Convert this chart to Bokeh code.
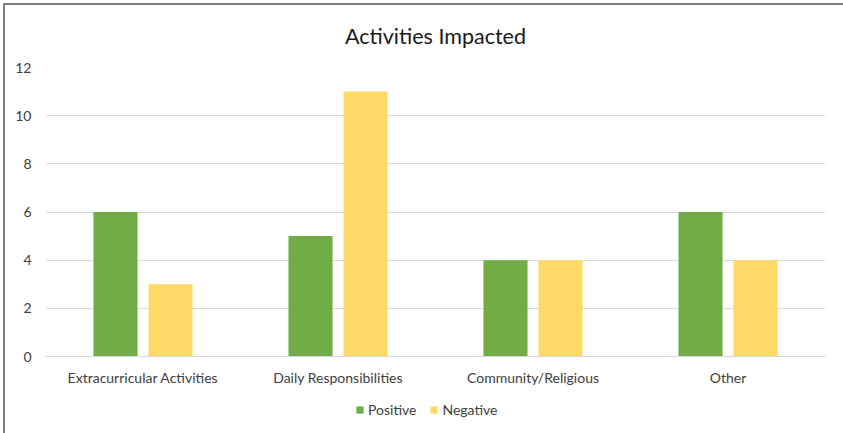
from bokeh.plotting import figure
from bokeh.layouts import column
from bokeh.models import (ColumnDataSource, FactorRange, Legend, LegendItem,
                          SingleIntervalTicker, Range1d, InlineStyleSheet)
from bokeh.transform import dodge
from bokeh.embed import file_html
from bokeh.resources import INLINE

# Survey counts per activity type
categories = ["Extracurricular Activities", "Daily Responsibilities", "Community/Religious", "Other"]
positive = [6, 5, 4, 6]
negative = [3, 11, 4, 4]
series_names = ["Positive", "Negative"]

GREEN = "#70AD47"
YELLOW = "#FFD966"
GRID = "#d9d9d9"
TEXT = "#404040"
FONT = "Lato"

source = ColumnDataSource(dict(cat=categories, pos=positive, neg=negative))

p = figure(
    x_range=FactorRange(*categories, range_padding=0),
    y_range=Range1d(0, 12),
    frame_width=780, frame_height=289,
    output_backend="svg", toolbar_location=None,
    min_border_left=45, min_border_right=18,
    min_border_top=67, min_border_bottom=44,
    title="Activities Impacted",
)

p.title.align = "center"
p.title.text_font = FONT
p.title.text_font_size = "21.5px"
p.title.text_font_style = "normal"
p.title.text_color = "#1a1a1a"
p.title.offset = 0
p.title.standoff = 38

bar_w = 0.226
r_pos = p.vbar(x=dodge("cat", -0.141, range=p.x_range), top="pos", width=bar_w,
               source=source, fill_color=GREEN, line_color=None)
r_neg = p.vbar(x=dodge("cat", 0.141, range=p.x_range), top="neg", width=bar_w,
               source=source, fill_color=YELLOW, line_color=None)

p.outline_line_color = None
p.background_fill_color = "white"
p.border_fill_color = "white"

p.xgrid.grid_line_color = None
p.ygrid.grid_line_color = GRID
p.ygrid.grid_line_width = 1

p.yaxis.ticker = SingleIntervalTicker(interval=2)
p.yaxis.axis_line_color = None
p.yaxis.major_tick_line_color = None
p.yaxis.minor_tick_line_color = None
p.yaxis.major_label_text_font = FONT
p.yaxis.major_label_text_font_size = "14px"
p.yaxis.major_label_text_color = TEXT
p.yaxis.major_label_standoff = 8

p.xaxis.axis_line_color = GRID
p.xaxis.major_tick_line_color = None
p.xaxis.minor_tick_line_color = None
p.xaxis.major_label_text_font = FONT
p.xaxis.major_label_text_font_size = "14px"
p.xaxis.major_label_text_color = TEXT
p.xaxis.major_label_standoff = 6

# legend strip: a bare canvas below the chart carrying the series swatches;
# its swatch renderers sit below the visible range so only the legend shows
leg = figure(
    width=843, height=33, x_range=Range1d(0, 1), y_range=Range1d(0, 1),
    x_axis_type=None, y_axis_type=None, output_backend="svg",
    toolbar_location=None, min_border=0,
)
leg.outline_line_color = None
leg.grid.visible = False
offstage = ColumnDataSource(dict(x=[0.5], bottom=[-3.0], top=[-2.0]))
s_pos = leg.vbar(x="x", bottom="bottom", top="top", width=0.1, source=offstage,
                 fill_color=GREEN, line_color=None)
s_neg = leg.vbar(x="x", bottom="bottom", top="top", width=0.1, source=offstage,
                 fill_color=YELLOW, line_color=None)

legend = Legend(
    items=[LegendItem(label=series_names[0], renderers=[s_pos]),
           LegendItem(label=series_names[1], renderers=[s_neg])],
    orientation="horizontal", location=(310, 15),
    glyph_width=9, glyph_height=9, label_standoff=4, spacing=13,
    label_text_font=FONT, label_text_font_size="14px", label_text_color=TEXT,
    border_line_color=None, background_fill_alpha=0,
    padding=0, margin=0,
)
leg.add_layout(legend, "center")

page = column(p, leg, spacing=0)
# outer chart-area border, drawn as an overlay so it doesn't affect layout
page.stylesheets = [InlineStyleSheet(css="""
:host { position: relative; }
:host::after {
  content: ""; position: absolute; left: 3px; top: 3px; right: -20px; bottom: -20px;
  border-top: 2px solid #7f7f7f; border-left: 2px solid #7f7f7f;
  pointer-events: none;
}
""")]

open("out.html", "w").write(file_html(page, INLINE))
